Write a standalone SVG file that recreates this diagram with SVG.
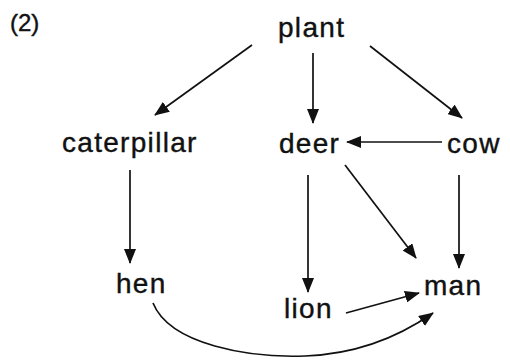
<svg xmlns="http://www.w3.org/2000/svg" width="510" height="360" viewBox="0 0 510 360">
<style>
text{font-family:"Liberation Sans",Arial,sans-serif;font-size:28px;fill:#111;stroke:#111;stroke-width:0.4;letter-spacing:1.3px}
.e{fill:none;stroke:#111;stroke-width:1.7}
</style>
<defs>
<marker id="ah" viewBox="0 0 15 12" refX="14" refY="6" markerWidth="15" markerHeight="12" markerUnits="userSpaceOnUse" orient="auto">
<path d="M0,0 L15,6 L0,12 Z" fill="#111"/>
</marker>
</defs>
<rect width="510" height="360" fill="#fff"/>
<text x="10" y="31" style="font-size:24px;letter-spacing:0">(2)</text>
<g id="plant"><text x="278" y="37">plant</text></g>
<g id="caterpillar"><text x="62" y="152">caterpillar</text></g>
<g id="deer"><text x="279" y="153">deer</text></g>
<g id="cow"><text x="447" y="153">cow</text></g>
<g id="hen"><text x="116" y="293">hen</text></g>
<g id="lion"><text x="284" y="318">lion</text></g>
<g id="man"><text x="424" y="295">man</text></g>
<g id="connectors">
<path class="e" d="M252,45 L155,115" marker-end="url(#ah)"/>
<path class="e" d="M313,53 L313,123" marker-end="url(#ah)"/>
<path class="e" d="M370,46 L462,118" marker-end="url(#ah)"/>
<path class="e" d="M442,142 L347,142" marker-end="url(#ah)"/>
<path class="e" d="M130,170 L130,263" marker-end="url(#ah)"/>
<path class="e" d="M308,175 L308,292" marker-end="url(#ah)"/>
<path class="e" d="M345,165 L416,258" marker-end="url(#ah)"/>
<path class="e" d="M459,175 L459,268" marker-end="url(#ah)"/>
<path class="e" d="M346,313 L419,293" marker-end="url(#ah)"/>
<path class="e" d="M153,303 C170,345 250,358 305,356 C360,354 400,336 433,313" marker-end="url(#ah)"/>
</g>
</svg>
